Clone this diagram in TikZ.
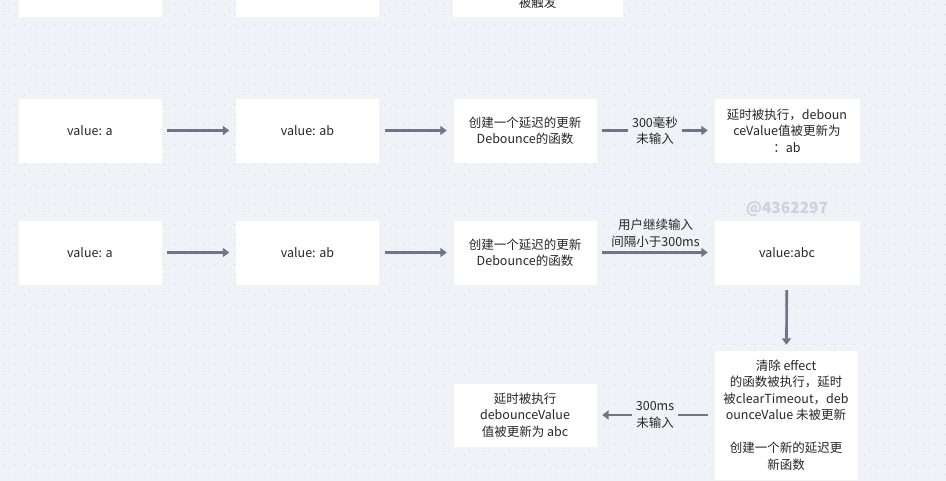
\documentclass[tikz,border=0pt]{standalone}
\usepackage{fontspec}
\setmainfont{Noto Sans CJK SC}
\usetikzlibrary{arrows.meta}
\definecolor{canvasbg}{RGB}{239,242,247}
\definecolor{griddot}{RGB}{204,209,221}
\definecolor{flowgray}{RGB}{110,117,133}
\definecolor{boxtext}{RGB}{38,38,38}
\definecolor{markgray}{RGB}{206,210,220}

\begin{document}
\begin{tikzpicture}[x=1pt, y=-1pt,
    card/.style={fill=white, draw=black!5, line width=0.4pt, minimum width=144pt, minimum height=65pt,
                 inner sep=0pt, align=center, text=boxtext, font=\fontsize{12.5}{16.5}\selectfont},
    note/.style={inner sep=1pt, align=center, text=boxtext, font=\fontsize{12.5}{16.5}\selectfont},
    flow/.style={draw=flowgray, line width=2.6pt, -{Triangle[length=6.5pt,width=9pt]}},
    bare/.style={draw=flowgray, line width=2.6pt}]
  \useasboundingbox (0,0) rectangle (946,481);
  \clip (0,0) rectangle (946,481);
  \fill[canvasbg] (0,0) rectangle (946,481);
  % dot grid
  \foreach \y in {4,14,...,480}
    \draw[griddot, line width=0.9pt, dash pattern=on 0.9pt off 9.1pt] (3.55,\y) -- (946,\y);

  % top row, cut off by the frame
  \node[card] (T1) at (90,-15.5) {};
  \node[card] (T2) at (307.5,-15.5) {};
  \node[card, minimum width=171pt] (T3) at (537.5,-15.5) {};
  \node[note] (T3text) at (537.5,3) {被触发};

  % first row
  \node[card] (A1) at (90,130.5) {value: a};
  \node[card] (B1) at (307.5,130.5) {value: ab};
  \node[card] (C1) at (525,130.5) {创建一个延迟的更新\\Debounce的函数};
  \node[card, minimum width=146pt] (D1) at (787,130.5) {延时被执行，deboun\\ceValue值被更新为\\：ab};
  \node[note] (L1) at (655,130.5) {300毫秒\\未输入};

  \draw[flow, shorten <=5pt, shorten >=6pt] (A1) -- (B1);
  \draw[flow, shorten <=5pt, shorten >=6pt] (B1) -- (C1);
  \draw[bare, shorten <=5pt, shorten >=3pt] (C1) -- (L1);
  \draw[flow, shorten <=3pt, shorten >=6pt] (L1) -- (D1);

  % second row
  \node[card] (A2) at (90,252.5) {value: a};
  \node[card] (B2) at (307.5,252.5) {value: ab};
  \node[card] (C2) at (525,252.5) {创建一个延迟的更新\\Debounce的函数};
  \node[card, minimum width=146pt] (D2) at (787,252.5) {value:abc};
  \node[font=\bfseries\fontsize{15.5}{17}\selectfont, text=markgray] (mark) at (787,209) {@4362297};

  \draw[flow, shorten <=5pt, shorten >=6pt] (A2) -- (B2);
  \draw[flow, shorten <=5pt, shorten >=6pt] (B2) -- (C2);
  \draw[flow, shorten <=5pt, shorten >=6pt] (C2) -- node[note, above=3pt] {用户继续输入\\间隔小于300ms} (D2);

  % third row
  \node[card, minimum height=130pt] (E) at (786,415) {清除 effect\\的函数被执行，延时\\被clearTimeout，deb\\ounceValue 未被更新\\[16.5pt]创建一个新的延迟更\\新函数};
  \node[card, minimum height=64pt] (F) at (525,415) {延时被执行\\debounceValue\\值被更新为 abc};
  \node[note] (L3) at (655,415) {300ms\\未输入};

  \draw[flow, shorten <=5pt, shorten >=5pt] (D2) -- (E);
  \draw[bare, shorten <=6pt, shorten >=3pt] (E) -- (L3);
  \draw[flow, shorten <=3pt, shorten >=5pt] (L3) -- (F);
\end{tikzpicture}
\end{document}
